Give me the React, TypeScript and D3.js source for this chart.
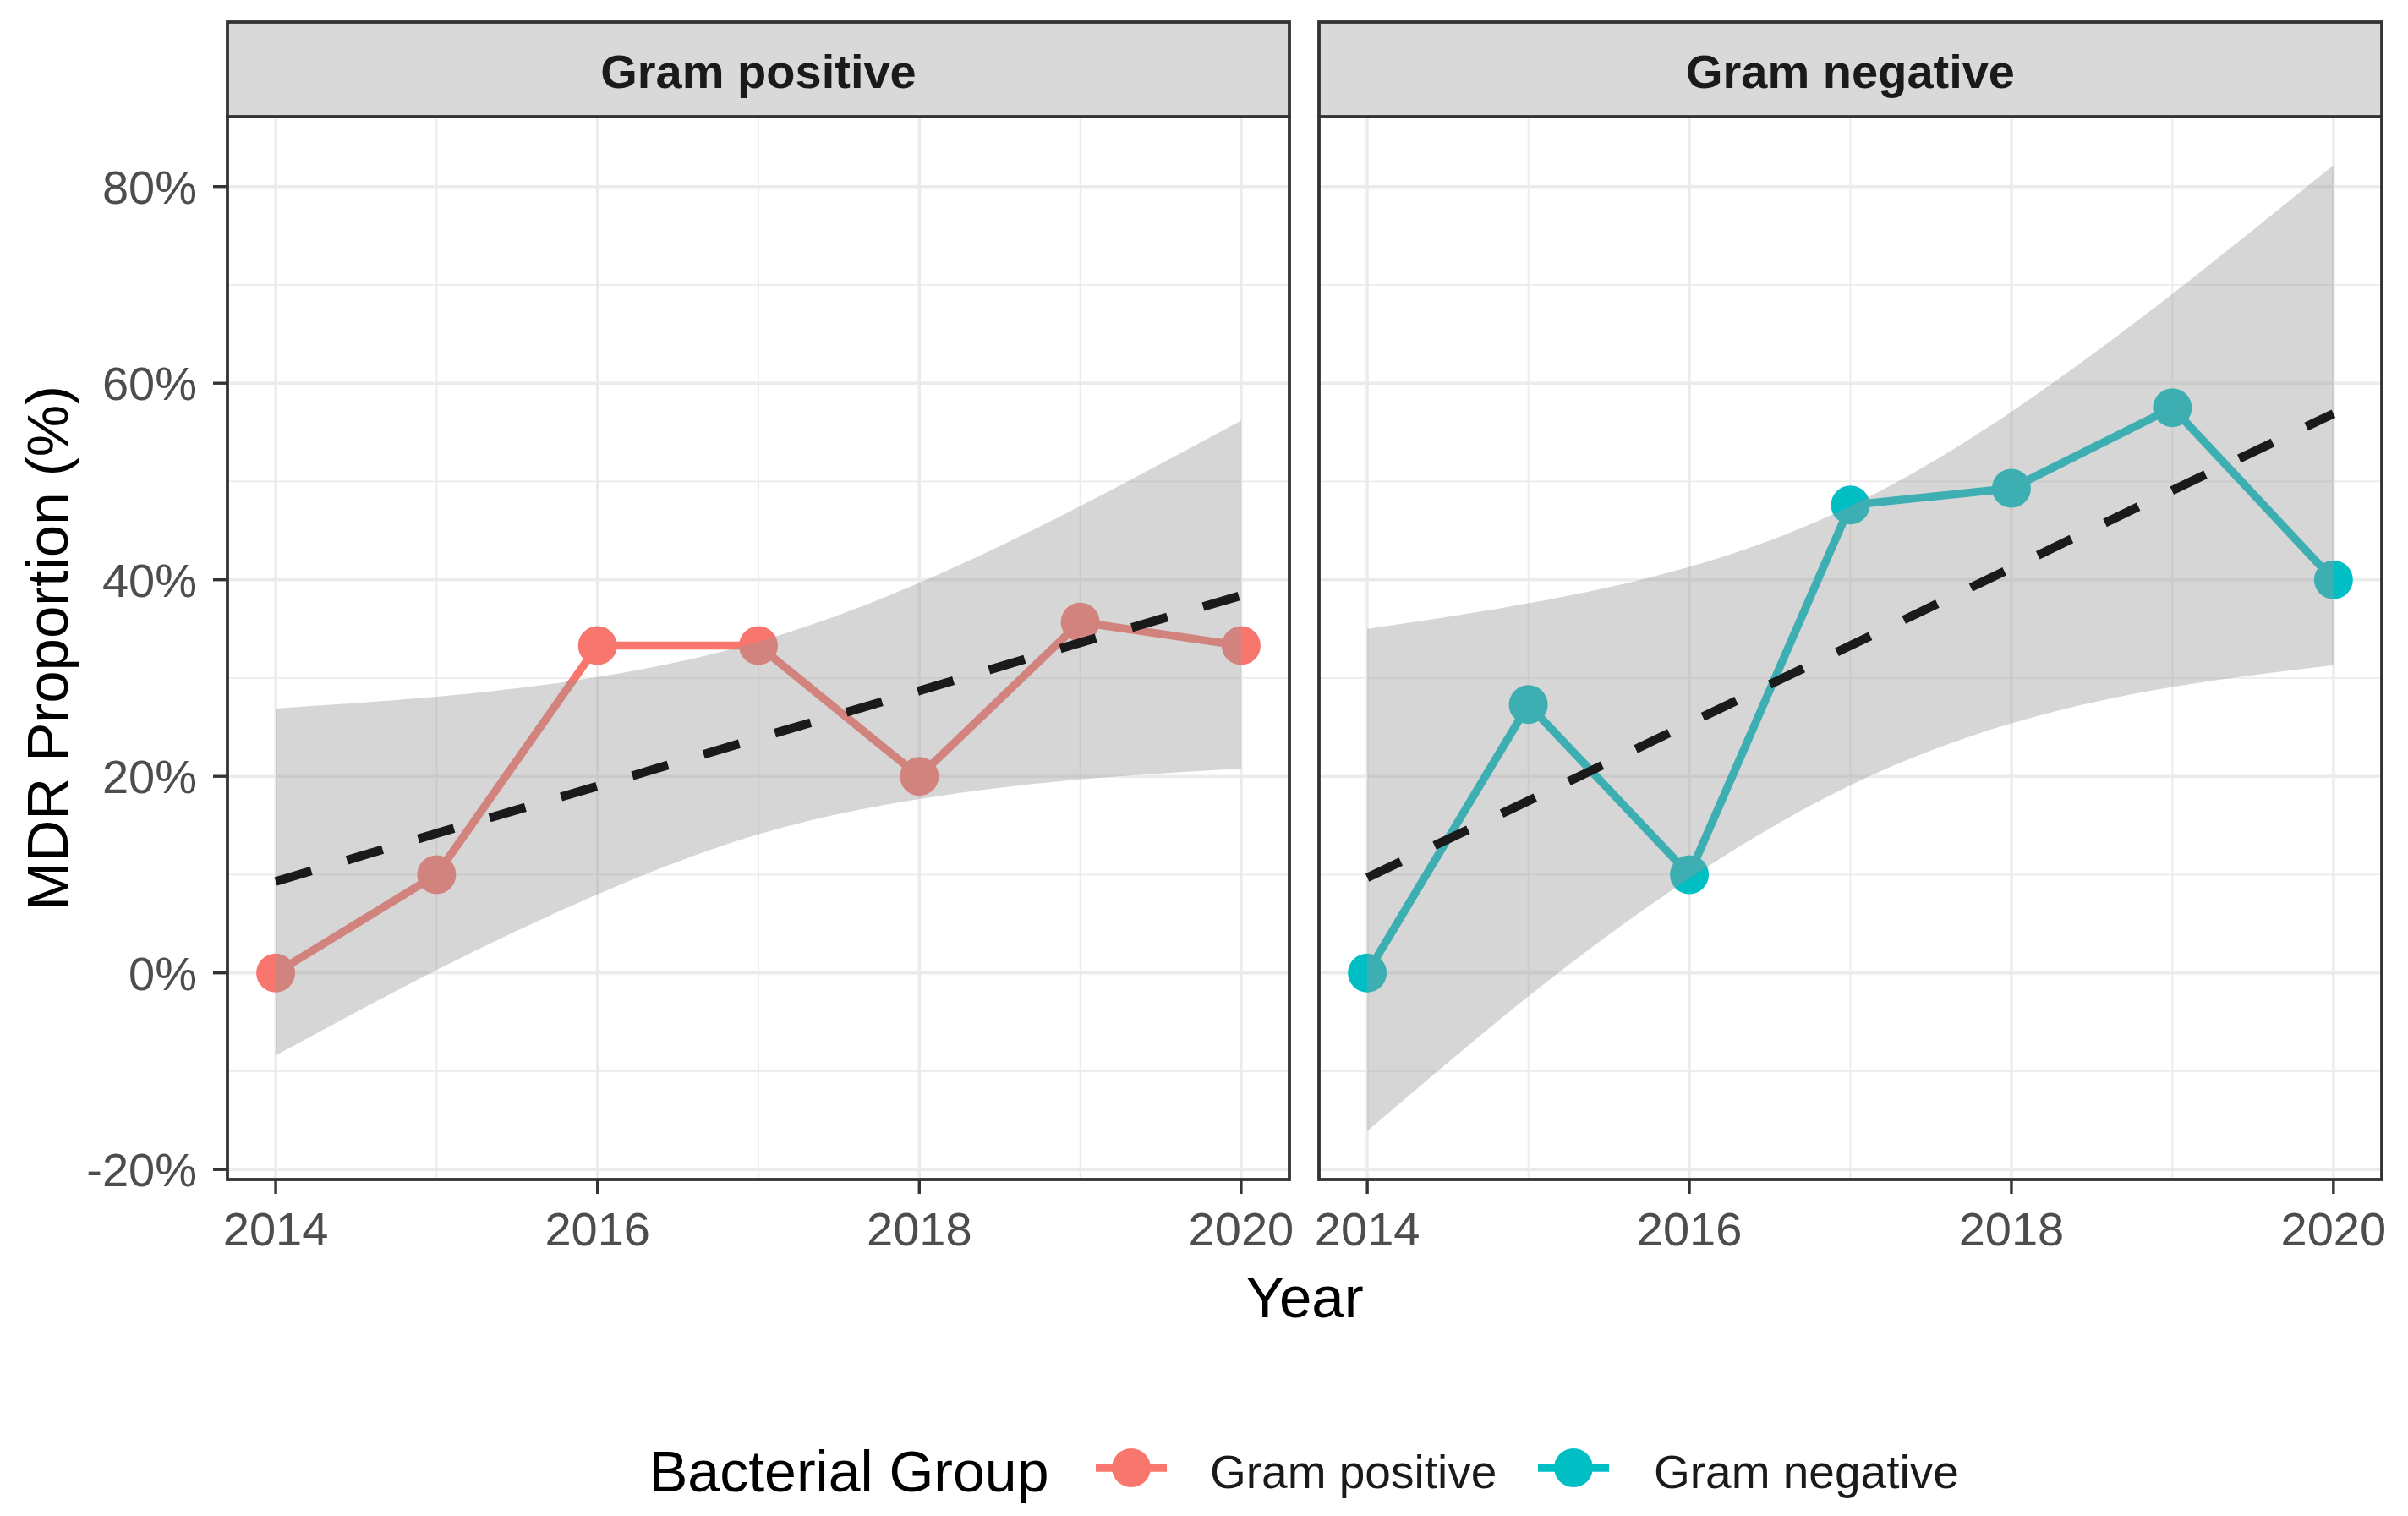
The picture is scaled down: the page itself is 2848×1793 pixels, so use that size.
import { useEffect } from "react";
import * as d3 from "d3";

// values
const years = [2014, 2015, 2016, 2017, 2018, 2019, 2020];
const groups = ["Gram positive", "Gram negative"];
const groupColors = ["#F8766D", "#00BFC4"];

const posMDR = [0, 10, 33.3, 33.3, 20, 35.7, 33.3];
const negMDR = [0, 27.3, 10, 47.6, 49.3, 57.5, 40];

// dashed trend (lm fit) and its confidence band
const posFit = [9.3, 14.2, 19.0, 23.9, 28.7, 33.6, 38.4];
const negFit = [9.7, 17.5, 25.4, 33.3, 41.2, 49.1, 56.9];
const posUpper = [26.9, 28.1, 30.1, 33.7, 39.7, 47.5, 56.2];
const posLower = [-8.4, 0.3, 8.0, 14.1, 17.7, 19.7, 20.8];
const negUpper = [35.0, 37.6, 41.3, 47.5, 57.1, 69.1, 82.2];
const negLower = [-16.1, -2.4, 9.6, 19.1, 25.4, 29.1, 31.3];

const yMajor = [-20, 0, 20, 40, 60, 80];
const yMinor = [-10, 10, 30, 50, 70];
const xMajor = [2014, 2016, 2018, 2020];
const xMinor = [2015, 2017, 2019];

const W = 2848;
const H = 1793;
const FONT = "'Liberation Sans', Arial, Helvetica, sans-serif";

const panelTop = 138;
const panelBottom = 1395;
const stripTop = 26;
const panels = [
  { x0: 269, x1: 1525, values: posMDR, fit: posFit, upper: posUpper, lower: posLower },
  { x0: 1560, x1: 2817, values: negMDR, fit: negFit, upper: negUpper, lower: negLower },
];

export default function App() {
  useEffect(() => {
    document.body.style.margin = "0";
  }, []);

  const allY = [...posUpper, ...posLower, ...negUpper, ...negLower, ...posMDR, ...negMDR];
  const [lo, hi] = d3.extent(allY) as [number, number];
  const padY = (hi - lo) * 0.05;
  const y = d3.scaleLinear().domain([lo - padY, hi + padY]).range([panelBottom, panelTop]);

  const [xa, xb] = d3.extent(years) as [number, number];
  const padX = (xb - xa) * 0.05;

  return (
    <svg width={W} height={H} style={{ display: "block", background: "#fff" }} fontFamily={FONT}>
      {panels.map((p, pi) => {
        const x = d3.scaleLinear().domain([xa - padX, xb + padX]).range([p.x0, p.x1]);
        const line = d3
          .line<number>()
          .x((_, i) => x(years[i]))
          .y((d) => y(d));
        const band = d3
          .area<number>()
          .x((_, i) => x(years[i]))
          .y0((_, i) => y(p.lower[i]))
          .y1((d) => y(d))
          .curve(d3.curveNatural);
        const color = groupColors[pi];
        return (
          <g key={pi}>
            {/* grid */}
            {yMinor.map((v) => (
              <line key={"ym" + v} x1={p.x0} x2={p.x1} y1={y(v)} y2={y(v)} stroke="#EBEBEB" strokeWidth={1.8} />
            ))}
            {xMinor.map((v) => (
              <line key={"xm" + v} x1={x(v)} x2={x(v)} y1={panelTop} y2={panelBottom} stroke="#EBEBEB" strokeWidth={1.8} />
            ))}
            {yMajor.map((v) => (
              <line key={"yM" + v} x1={p.x0} x2={p.x1} y1={y(v)} y2={y(v)} stroke="#EBEBEB" strokeWidth={3.4} />
            ))}
            {xMajor.map((v) => (
              <line key={"xM" + v} x1={x(v)} x2={x(v)} y1={panelTop} y2={panelBottom} stroke="#EBEBEB" strokeWidth={3.4} />
            ))}

            {/* observed proportions */}
            <path d={line(p.values) ?? ""} fill="none" stroke={color} strokeWidth={9.5} />
            {p.values.map((v, i) => (
              <circle key={i} cx={x(years[i])} cy={y(v)} r={23} fill={color} />
            ))}

            {/* confidence band and trend */}
            <path d={band(p.upper) ?? ""} fill="#999999" fillOpacity={0.4} />
            <path
              d={line(p.fit) ?? ""}
              fill="none"
              stroke="#1A1A1A"
              strokeWidth={10.5}
              strokeDasharray="44 44"
            />

            {/* panel border */}
            <rect x={p.x0} y={panelTop} width={p.x1 - p.x0} height={panelBottom - panelTop} fill="none" stroke="#333333" strokeWidth={3.8} />

            {/* strip */}
            <rect x={p.x0} y={stripTop} width={p.x1 - p.x0} height={panelTop - stripTop} fill="#D9D9D9" stroke="#333333" strokeWidth={3.8} />
            <text x={(p.x0 + p.x1) / 2} y={104} textAnchor="middle" fontSize={56} fontWeight="bold" fill="#1A1A1A">
              {groups[pi]}
            </text>

            {/* x axis */}
            {xMajor.map((v) => (
              <g key={"xt" + v}>
                <line x1={x(v)} x2={x(v)} y1={panelBottom} y2={panelBottom + 17} stroke="#333333" strokeWidth={3.4} />
                <text x={x(v)} y={1473} textAnchor="middle" fontSize={56} fill="#4D4D4D">
                  {v}
                </text>
              </g>
            ))}

            {/* y axis on the first panel only */}
            {pi === 0 &&
              yMajor.map((v) => (
                <g key={"yt" + v}>
                  <line x1={p.x0 - 17} x2={p.x0} y1={y(v)} y2={y(v)} stroke="#333333" strokeWidth={3.4} />
                  <text x={p.x0 - 36} y={y(v)} dy="0.36em" textAnchor="end" fontSize={56} fill="#4D4D4D">
                    {v}%
                  </text>
                </g>
              ))}
          </g>
        );
      })}

      {/* axis titles */}
      <text x={(269 + 2817) / 2} y={1558} textAnchor="middle" fontSize={69} fill="#000">
        Year
      </text>
      <text
        transform={`translate(80, ${(panelTop + panelBottom) / 2}) rotate(-90)`}
        textAnchor="middle"
        fontSize={69}
        fill="#000"
      >
        MDR Proportion (%)
      </text>

      {/* legend */}
      <text x={768} y={1764} fontSize={68} fill="#000">
        Bacterial Group
      </text>
      {groups.map((g, i) => {
        const kx = [1338, 1861][i];
        const lx = [1431, 1956][i];
        return (
          <g key={g}>
            <line x1={kx - 42} x2={kx + 42} y1={1736} y2={1736} stroke={groupColors[i]} strokeWidth={9.5} />
            <circle cx={kx} cy={1736} r={23} fill={groupColors[i]} />
            <text x={lx} y={1760} fontSize={55} fill="#1A1A1A">
              {g}
            </text>
          </g>
        );
      })}
    </svg>
  );
}
